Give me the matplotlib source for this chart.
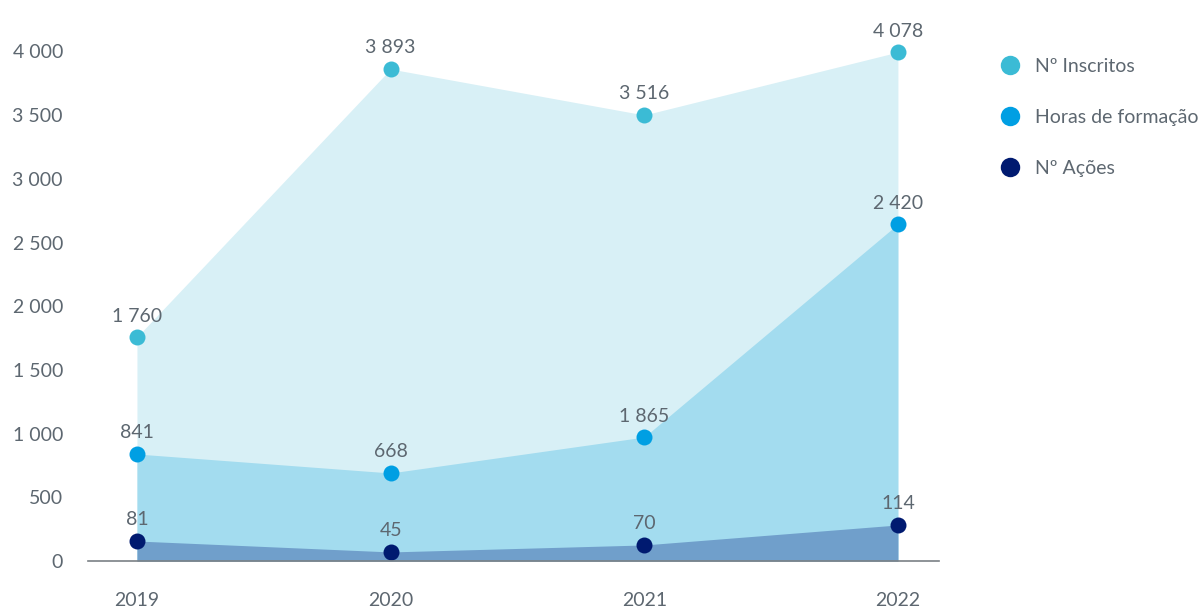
import matplotlib
matplotlib.use("Agg")
import matplotlib.pyplot as plt
from matplotlib.lines import Line2D

plt.rcParams['font.family'] = ['Lato', 'DejaVu Sans']

years = ["2019", "2020", "2021", "2022"]
series_names = ["Nº Inscritos", "Horas de formação", "Nº Ações"]

# plotted positions
inscritos = [1758, 3862, 3501, 3995]
horas = [840, 691, 973, 2645]
acoes = [157, 71, 126, 283]

# printed value labels
inscritos_labels = ["1 760", "3 893", "3 516", "4 078"]
horas_labels = ["841", "668", "1 865", "2 420"]
acoes_labels = ["81", "45", "70", "114"]

yticks = [0, 500, 1000, 1500, 2000, 2500, 3000, 3500, 4000]
ytick_labels = ["0", "500", "1 000", "1 500", "2 000", "2 500", "3 000", "3 500", "4 000"]

marker_colors = ["#3bbbd5", "#009fe3", "#001a70"]
area_colors = ["#d8f0f6", "#a3dcef", "#709fcb"]
text_color = "#5d6770"

fig = plt.figure(figsize=(12, 6.1), dpi=100)
ax = fig.add_axes([88/1200, 49/610, 851/1200, 547.8/610])

x = list(range(len(years)))
data = [inscritos, horas, acoes]
labels = [inscritos_labels, horas_labels, acoes_labels]

for i, (vals, labs) in enumerate(zip(data, labels)):
    ax.fill_between(x, 0, vals, color=area_colors[i], lw=0, zorder=1 + i)
for i, (vals, labs) in enumerate(zip(data, labels)):
    ax.plot(x, vals, ls="none", marker="o", ms=11.5, color=marker_colors[i],
            mec="none", zorder=10)
    for xi, v, t in zip(x, vals, labs):
        ax.annotate(t, (xi, v), xytext=(0, 9), textcoords="offset points",
                    ha="center", va="bottom", fontsize=14, color=text_color,
                    zorder=11)

ax.set_xlim(-0.193, 3.162)
ax.set_ylim(0, 4300)
ax.set_xticks(x)
ax.set_xticklabels(years)
ax.set_yticks(yticks)
ax.set_yticklabels(ytick_labels)
ax.tick_params(axis="both", length=0, labelsize=14, labelcolor=text_color)
ax.tick_params(axis="x", pad=22)
ax.tick_params(axis="y", pad=18)
for s in ["top", "right", "left"]:
    ax.spines[s].set_visible(False)
ax.spines["bottom"].set_color("#7a8085")
ax.spines["bottom"].set_linewidth(1.2)
ax.spines["bottom"].set_zorder(12)

handles = [Line2D([], [], ls="none", marker="o", ms=14, color=c, mec="none")
           for c in marker_colors]
fig.legend(handles, series_names, loc="upper left",
           bbox_to_anchor=(1000/1200, 1 - 58/610), frameon=False,
           fontsize=14, labelcolor=text_color, handlelength=1.0,
           handletextpad=0.8, labelspacing=1.75, borderpad=0,
           borderaxespad=0)

fig.savefig("out.png", dpi=100)
